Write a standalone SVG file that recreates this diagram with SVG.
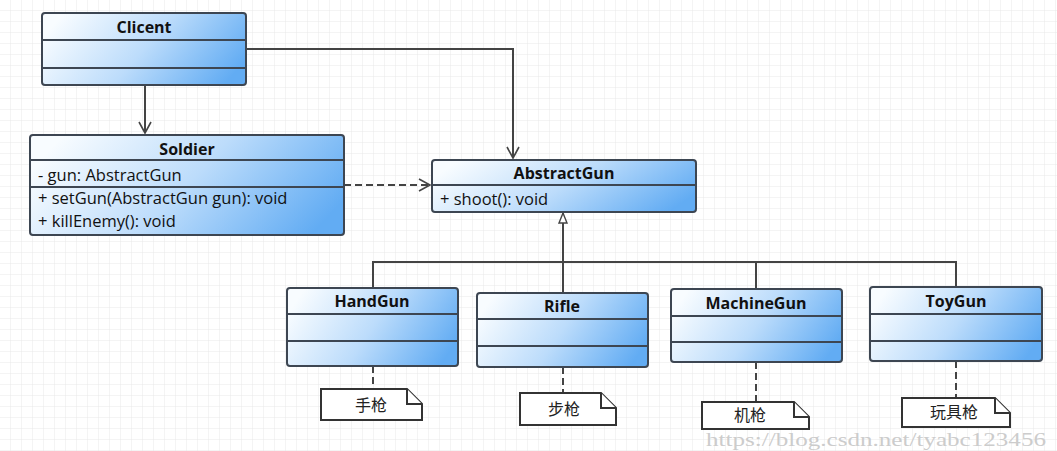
<svg xmlns="http://www.w3.org/2000/svg" width="1057" height="451" viewBox="0 0 1057 451">
<defs>
<pattern id="grid" width="11" height="11" patternUnits="userSpaceOnUse">
<path d="M11 0V11M0 11H11" fill="none" stroke="#e8e8e8" stroke-width="1"/>
</pattern>
<linearGradient id="cls" x1="0" y1="0.35" x2="1" y2="0.65">
<stop offset="0" stop-color="#f8fcff"/>
<stop offset="0.5" stop-color="#bcdcfb"/>
<stop offset="1" stop-color="#62acf3"/>
</linearGradient>
<marker id="open" markerWidth="14" markerHeight="14" refX="12" refY="7" orient="auto" markerUnits="userSpaceOnUse">
<path d="M1 1L12 7L1 13" fill="none" stroke="#444" stroke-width="1.6"/>
</marker>
<marker id="tri" markerWidth="12" markerHeight="16" refX="11" refY="5" orient="auto" markerUnits="userSpaceOnUse">
<path d="M1 1L11 5L1 9Z" fill="#fff" stroke="#444" stroke-width="1.4"/>
</marker>
<style>
.box{fill:url(#cls);stroke:#3d4652;stroke-width:2}
.div{stroke:#3d4652;stroke-width:2}
.title{font-family:"Open Sans","Noto Sans",sans-serif;font-weight:bold;font-size:16px;fill:#111;text-anchor:middle}
.mem{font-family:"Open Sans","Noto Sans",sans-serif;font-size:16.5px;fill:#111}
.line{fill:none;stroke:#444;stroke-width:2}
.dash{fill:none;stroke:#444;stroke-width:2;stroke-dasharray:7,4}
.note{fill:#fff;stroke:#333;stroke-width:2}
.ntext{font-family:"Noto Sans CJK SC",sans-serif;font-size:16px;fill:#222;text-anchor:middle}
.wm{font-family:"Liberation Serif",serif;font-size:18px;fill:#cccccc}
</style>
</defs>
<rect width="1057" height="451" fill="#ffffff"/>
<rect width="1057" height="451" fill="url(#grid)"/>

<g id="connectors">
<path class="line" d="M246 49H513V158" marker-end="url(#open)"/>
<path class="line" d="M145 85V133" marker-end="url(#open)"/>
<path class="dash" d="M344 185H430" marker-end="url(#open)"/>
<path class="line" d="M563 293V262M563 262V213" marker-end="url(#tri)"/>
<path class="line" d="M373 288V262H956V287M756 262V289"/>
<path class="dash" d="M373 366V389"/>
<path class="dash" d="M563 367V393"/>
<path class="dash" d="M756 362V402"/>
<path class="dash" d="M956 361V398"/>
</g>

<g id="Clicent">
<rect class="box" x="42" y="13" width="204" height="72" rx="3"/>
<line class="div" x1="42" y1="40" x2="246" y2="40"/>
<line class="div" x1="42" y1="68" x2="246" y2="68"/>
<text class="title" x="144" y="33">Clicent</text>
</g>

<g id="Soldier">
<rect class="box" x="30" y="135" width="314" height="100" rx="3"/>
<line class="div" x1="30" y1="160" x2="344" y2="160"/>
<line class="div" x1="30" y1="187" x2="344" y2="187"/>
<text class="title" x="187" y="155">Soldier</text>
<text class="mem" x="38" y="181">- gun: AbstractGun</text>
<text class="mem" x="38" y="204">+ setGun(AbstractGun gun): void</text>
<text class="mem" x="38" y="227">+ killEnemy(): void</text>
</g>

<g id="AbstractGun">
<rect class="box" x="432" y="160" width="264" height="52" rx="3"/>
<line class="div" x1="432" y1="185" x2="696" y2="185"/>
<text class="title" x="564" y="179">AbstractGun</text>
<text class="mem" x="440" y="205">+ shoot(): void</text>
</g>

<g id="HandGun">
<rect class="box" x="287" y="288" width="171" height="78" rx="3"/>
<line class="div" x1="287" y1="314" x2="458" y2="314"/>
<line class="div" x1="287" y1="341" x2="458" y2="341"/>
<text class="title" x="372" y="307">HandGun</text>
</g>

<g id="Rifle">
<rect class="box" x="477" y="293" width="171" height="74" rx="3"/>
<line class="div" x1="477" y1="319" x2="648" y2="319"/>
<line class="div" x1="477" y1="346" x2="648" y2="346"/>
<text class="title" x="562" y="312">Rifle</text>
</g>

<g id="MachineGun">
<rect class="box" x="671" y="289" width="171" height="73" rx="3"/>
<line class="div" x1="671" y1="316" x2="842" y2="316"/>
<line class="div" x1="671" y1="342" x2="842" y2="342"/>
<text class="title" x="756" y="309">MachineGun</text>
</g>

<g id="ToyGun">
<rect class="box" x="870" y="287" width="172" height="74" rx="3"/>
<line class="div" x1="870" y1="314" x2="1042" y2="314"/>
<line class="div" x1="870" y1="341" x2="1042" y2="341"/>
<text class="title" x="956" y="307">ToyGun</text>
</g>

<g id="note-handgun">
<path class="note" d="M321 389H407L422 404V420H321Z"/>
<path class="note" d="M407 389V404H422" fill="none"/>
<text class="ntext" x="371" y="411">手枪</text>
</g>
<g id="note-rifle">
<path class="note" d="M520 393H601L616 408V425H520Z"/>
<path class="note" d="M601 393V408H616" fill="none"/>
<text class="ntext" x="564" y="415">步枪</text>
</g>
<g id="note-machinegun">
<path class="note" d="M702 402H794L809 417V429H702Z"/>
<path class="note" d="M794 402V417H809" fill="none"/>
<text class="ntext" x="750" y="421">机枪</text>
</g>
<g id="note-toygun">
<path class="note" d="M902 398H995L1010 413V427H902Z"/>
<path class="note" d="M995 398V413H1010" fill="none"/>
<text class="ntext" x="954" y="418">玩具枪</text>
</g>

<text class="wm" x="706" y="446" textLength="340" lengthAdjust="spacingAndGlyphs">https://blog.csdn.net/tyabc123456</text>
</svg>
